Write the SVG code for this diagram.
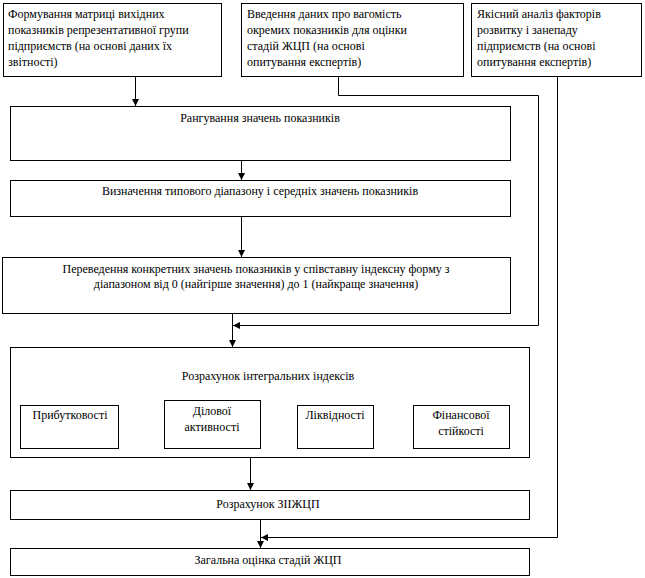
<svg xmlns="http://www.w3.org/2000/svg" width="645" height="578" viewBox="0 0 645 578">
<defs>
<marker id="ah" markerWidth="8" markerHeight="8" refX="7" refY="4" orient="auto" markerUnits="userSpaceOnUse">
<path d="M0,0.5 L7,4 L0,7.5 Z" fill="#000"/>
</marker>
<style>
rect{fill:#fff;stroke:#000;stroke-width:1}
text{font-family:"Liberation Serif","Times New Roman",serif;font-size:12px;fill:#000}
.c{text-anchor:middle}
.ln{fill:none;stroke:#000;stroke-width:1}
</style>
</defs>
<rect x="0" y="0" width="645" height="578" style="stroke:none"/>
<g id="n1"><rect x="3.5" y="3.5" width="218" height="73"/>
<text x="8" y="18">Формування матриці вихідних</text>
<text x="8" y="34">показників репрезентативної групи</text>
<text x="8" y="50">підприємств (на основі даних їх</text>
<text x="8" y="66">звітності)</text></g>
<g id="n2"><rect x="241.5" y="3.5" width="222" height="73"/>
<text x="247" y="18">Введення даних про вагомість</text>
<text x="247" y="34">окремих показників для оцінки</text>
<text x="247" y="50">стадій ЖЦП (на основі</text>
<text x="247" y="66">опитування експертів)</text></g>
<g id="n3"><rect x="471.5" y="3.5" width="170" height="73"/>
<text x="477" y="18">Якісний аналіз факторів</text>
<text x="477" y="34">розвитку і занепаду</text>
<text x="477" y="50">підприємств (на основі</text>
<text x="477" y="66">опитування експертів)</text></g>
<g id="n4"><rect x="10.5" y="106.5" width="500" height="54"/>
<text class="c" x="260" y="122">Рангування значень показників</text></g>
<g id="n5"><rect x="10.5" y="180.5" width="500" height="36"/>
<text class="c" x="260" y="195">Визначення типового діапазону і середніх значень показників</text></g>
<g id="n6"><rect x="2.5" y="257.5" width="508" height="56"/>
<text class="c" x="256" y="273">Переведення конкретних значень показників у співставну індексну форму з</text>
<text class="c" x="256" y="288">діапазоном від 0 (найгірше значення) до 1 (найкраще значення)</text></g>
<g id="n7"><rect x="10.5" y="347.5" width="519" height="110"/>
<text class="c" x="268" y="380">Розрахунок інтегральних індексів</text></g>
<g id="n8"><rect x="20.5" y="405.5" width="98" height="43"/>
<text class="c" x="70" y="419">Прибутковості</text></g>
<g id="n9"><rect x="164.5" y="400.5" width="96" height="48"/>
<text class="c" x="212" y="415">Ділової</text>
<text class="c" x="212" y="431">активності</text></g>
<g id="n10"><rect x="297.5" y="405.5" width="76" height="43"/>
<text class="c" x="335" y="419">Ліквідності</text></g>
<g id="n11"><rect x="413.5" y="405.5" width="96" height="43"/>
<text class="c" x="461" y="419">Фінансової</text>
<text class="c" x="461" y="435">стійкості</text></g>
<g id="n12"><rect x="10.5" y="490.5" width="519" height="29"/>
<text class="c" x="268" y="508">Розрахунок ЗІІЖЦП</text></g>
<g id="n13"><rect x="10.5" y="548.5" width="519" height="27"/>
<text class="c" x="268" y="564">Загальна оцінка стадій ЖЦП</text></g>
<g id="connectors">
<path class="ln" d="M135.5,77 V106" marker-end="url(#ah)"/>
<path class="ln" d="M241.5,161 V180" marker-end="url(#ah)"/>
<path class="ln" d="M241.5,217 V257" marker-end="url(#ah)"/>
<path class="ln" d="M232.5,314 V347" marker-end="url(#ah)"/>
<path class="ln" d="M338.5,77 V95.5 H538.5 V325.5 H233" marker-end="url(#ah)"/>
<path class="ln" d="M250.5,458 V490" marker-end="url(#ah)"/>
<path class="ln" d="M260.5,520 V548" marker-end="url(#ah)"/>
<path class="ln" d="M557.5,77 V537.5 H261" marker-end="url(#ah)"/>
</g>
</svg>
